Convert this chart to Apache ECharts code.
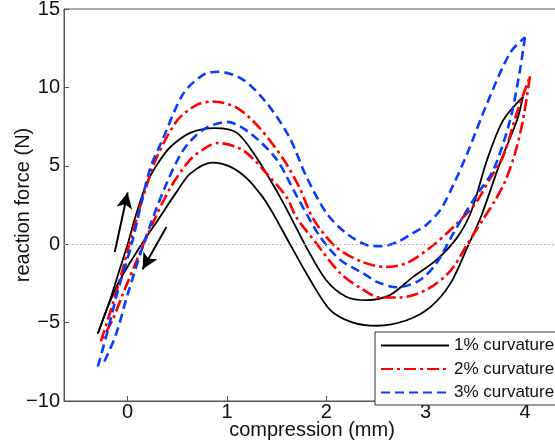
<!DOCTYPE html>
<html><head><meta charset="utf-8">
<script src="https://cdn.jsdelivr.net/npm/echarts@6/dist/echarts.min.js"></script>
<style>html,body{margin:0;padding:0;background:#fff}#c{width:555px;height:448px}</style>
</head><body><div id="c"></div>
<script>
const xTicks = [0, 1, 2, 3, 4];
const yTicks = [-10, -5, 0, 5, 10, 15];
const seriesNames = ['1% curvature', '2% curvature', '3% curvature'];

// 1% curvature: loading (upper) and unloading (lower) branches
const c1Loading = [[-0.30,-5.7],[-0.18,-3.6],[-0.08,-1.6],[0.0,0.0],[0.09,2.0],[0.2,4.0],[0.32,5.3],[0.43,6.2],[0.63,7.1],[0.88,7.4],[1.1,7.1],[1.3,5.5],[1.5,3.4],[1.62,2.0],[1.80,-0.2],[2.0,-2.3],[2.2,-3.35],[2.41,-3.57],[2.64,-3.25],[2.87,-2.1],[3.11,-1.0],[3.32,0.45],[3.46,2.1],[3.62,5.4],[3.78,7.9],[3.98,9.4]];
const c1Unloading = [[3.98,9.4],[3.92,7.9],[3.75,5.2],[3.56,1.8],[3.42,-0.2],[3.25,-2.5],[3.05,-4.0],[2.81,-4.85],[2.51,-5.2],[2.27,-5.0],[2.04,-4.2],[1.84,-2.3],[1.63,0.05],[1.46,2.0],[1.36,3.0],[1.2,4.2],[1.03,4.95],[0.85,5.2],[0.63,4.5],[0.5,3.4],[0.3,1.5],[0.12,-0.2],[-0.08,-2.3],[-0.2,-4.0],[-0.30,-5.7]];

// 2% curvature
const c2Loading = [[-0.27,-6.2],[-0.15,-3.8],[-0.05,-1.6],[0.03,0.3],[0.15,2.9],[0.29,5.5],[0.5,7.9],[0.70,8.9],[0.86,9.1],[1.1,8.7],[1.33,7.4],[1.57,5.4],[1.73,3.6],[1.87,1.6],[2.1,-0.2],[2.37,-1.15],[2.6,-1.45],[2.81,-1.2],[3.05,-0.2],[3.28,1.1],[3.5,2.6],[3.65,4.2],[3.78,5.6],[3.92,8.4],[4.05,10.7]];
const c2Unloading = [[4.05,10.7],[3.98,7.9],[3.9,5.8],[3.8,4.0],[3.7,2.8],[3.58,1.6],[3.42,0.0],[3.25,-1.7],[3.01,-2.9],[2.74,-3.4],[2.54,-3.4],[2.37,-2.9],[2.14,-1.85],[1.9,0.05],[1.70,1.7],[1.6,3.0],[1.4,4.5],[1.16,6.0],[0.91,6.45],[0.8,6.2],[0.63,5.4],[0.43,3.6],[0.25,1.3],[0.1,-0.9],[-0.05,-3.2],[-0.15,-4.8],[-0.27,-6.2]];

// 3% curvature
const c3Loading = [[-0.30,-7.8],[-0.2,-5.5],[-0.1,-3.0],[0.04,0.0],[0.22,4.7],[0.36,6.8],[0.56,9.6],[0.76,10.8],[0.91,11.0],[1.16,10.5],[1.4,9.0],[1.63,6.8],[1.8,4.3],[2.0,2.0],[2.2,0.7],[2.44,-0.1],[2.56,-0.13],[2.72,0.15],[2.87,0.7],[3.0,1.2],[3.15,2.2],[3.28,3.8],[3.42,5.8],[3.62,9.0],[3.85,12.2],[4.0,13.2]];
const c3Unloading = [[4.0,13.2],[3.95,11.1],[3.85,7.9],[3.68,4.7],[3.52,3.2],[3.4,2.0],[3.28,0.7],[3.11,-1.2],[2.94,-2.3],[2.71,-2.75],[2.51,-2.4],[2.37,-1.85],[2.14,-1.0],[1.94,0.45],[1.7,3.1],[1.5,5.4],[1.23,7.1],[1.0,7.8],[0.76,7.3],[0.56,6.0],[0.36,3.4],[0.16,0.0],[0.0,-3.2],[-0.12,-5.8],[-0.25,-7.7]];

// direction arrows (annotation)
const arrowUp = [[-0.13,-0.5],[0.0,3.3]];
const arrowDown = [[0.39,1.1],[0.15,-1.6]];

const FONT = 'Liberation Sans, Arial, sans-serif';
const styles = [
  {color:'#000000', width:1.8, type:'solid'},
  {color:'#ff0000', width:2.6, type:[12,4,3,4]},
  {color:'#0a3cff', width:2.6, type:[9,5]}
];
const curves = [[c1Loading,c1Unloading],[c2Loading,c2Unloading],[c3Loading,c3Unloading]];

const series = [];
curves.forEach((pair, i) => {
  pair.forEach((data, j) => {
    series.push({
      name: seriesNames[i], type:'line', data: data, symbol:'none', showSymbol:false, smooth:0.3,
      lineStyle: styles[i], itemStyle:{color: styles[i].color}, z: 2 + i,
      animation:false
    });
  });
});
series[0].markLine = {
  silent:true, animation:false, symbol:['none','none'],
  label:{show:false},
  lineStyle:{color:'#aaaaaa', type:[1.5,2.5], width:1},
  data:[{yAxis:0}]
};
series[1].markLine = {
  silent:true, animation:false,
  label:{show:false},
  lineStyle:{color:'#000', type:'solid', width:2},
  data:[
    [{coord:arrowUp[0], symbol:'none'},{coord:arrowUp[1], symbol:'arrow', symbolSize:[12,16]}],
    [{coord:arrowDown[0], symbol:'none'},{coord:arrowDown[1], symbol:'arrow', symbolSize:[12,16]}]
  ]
};

const chart = echarts.init(document.getElementById('c'), null, {renderer:'canvas'});
chart.setOption({
  animation:false,
  backgroundColor:'#fff',
  grid:{left:64, right:-5, top:9, bottom:47, outerBoundsMode:'none', containLabel:false,
    show:true, borderColor:'#555', borderWidth:1, backgroundColor:'transparent'},
  legend:{
    data: seriesNames, orient:'vertical', left:375, top:332,
    backgroundColor:'#fff', borderColor:'#333', borderWidth:1, borderRadius:0,
    padding:[5,40,4,5], itemWidth:68, itemHeight:14, itemGap:6.5,
    itemStyle:{opacity:0},
    textStyle:{fontFamily:FONT, fontSize:17, color:'#111'},
    selectedMode:false
  },
  xAxis:{
    type:'value', min:-0.641, max:4.353,
    name:'compression (mm)', nameLocation:'middle', nameGap:19, nameMoveOverlap:false,
    nameTextStyle:{fontFamily:FONT, fontSize:20, color:'#111'},
    axisLine:{show:true, onZero:false, lineStyle:{color:'#555', width:1}},
    axisTick:{show:true, inside:true, length:5, customValues:xTicks, lineStyle:{color:'#555'}},
    axisLabel:{show:true, margin:1, customValues:xTicks, fontFamily:FONT, fontSize:20, color:'#111',
      formatter: v => String(v).replace('-', '\u2212')},
    splitLine:{show:false}
  },
  yAxis:{
    type:'value', min:-10, max:15, interval:5,
    name:'reaction force (N)', nameLocation:'middle', nameGap:31, nameMoveOverlap:false,
    nameTextStyle:{fontFamily:FONT, fontSize:20, color:'#111'},
    axisLine:{show:true, onZero:false, lineStyle:{color:'#555', width:1}},
    axisTick:{show:true, inside:true, length:5, lineStyle:{color:'#555'}},
    axisLabel:{show:true, margin:4, fontFamily:FONT, fontSize:20, color:'#111',
      formatter: v => String(v).replace('-', '\u2212')},
    splitLine:{show:false}
  },
  series: series
});
</script>
</body></html>
